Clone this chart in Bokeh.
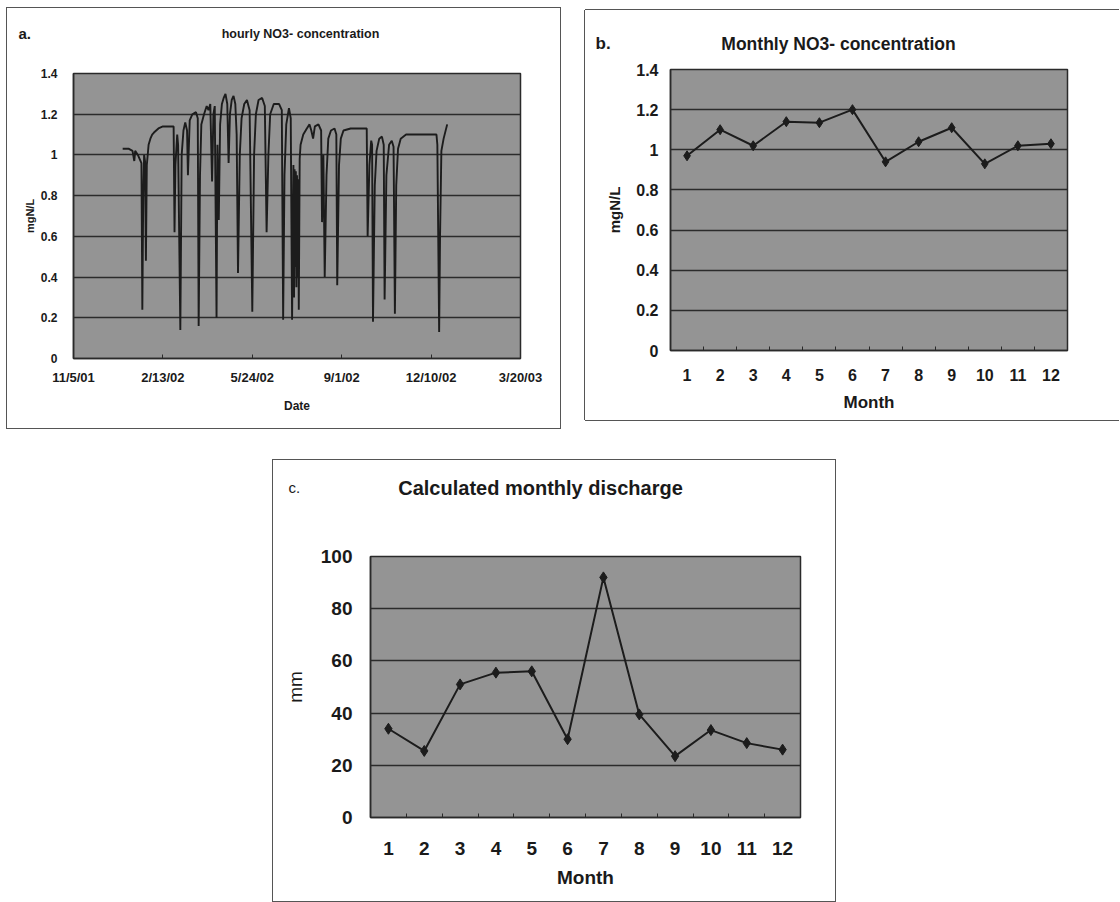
from bokeh.plotting import figure
from bokeh.models import FixedTicker, Label, Spacer
from bokeh.layouts import column, row
from bokeh.embed import file_html
from bokeh.resources import INLINE

FONT = "Liberation Sans"
INK = "#1a1a1a"
PLOT_BG = "#949494"
GRID = "#2b2b2b"
BOX = "#555555"

# ---------------- data ----------------
# panel a: hourly NO3- (days since 11/5/01, mgN/L)
hourly_day = [55, 62, 66, 68, 69, 72, 76, 77, 78, 79, 80, 81, 82, 84, 86, 88, 90, 95, 100, 112,
              113, 114, 116, 117, 119.5, 121, 123, 125, 127, 128, 130, 133, 137, 139, 140, 141.5,
              143, 146, 149, 151, 153, 155, 156.5, 158, 160, 161, 162.5, 164, 166, 168, 170, 172,
              173.5, 175, 177, 179, 181, 182.5, 184, 186, 188, 191, 194, 197, 200, 202, 204, 207,
              211, 214, 216, 218, 220, 224, 230, 233, 234.5, 236, 238, 241, 243, 244.5, 246, 246.7,
              247.3, 248, 248.7, 249.3, 250, 250.7, 251.3, 252, 253, 254, 257, 261, 264, 266, 268,
              270, 274, 277, 278, 279.5, 281, 283, 285, 288, 292, 294, 295, 297, 299, 302, 310, 328,
              329, 331, 333, 334, 335, 337, 339, 342, 345, 347, 348, 350, 353, 356, 358, 359.5, 361,
              363, 366, 372, 406, 407, 409, 410, 411.5, 414, 418]
hourly_no3 = [1.03, 1.03, 1.02, 0.97, 1.02, 1.00, 0.96, 0.24, 0.80, 1.00, 0.97, 0.48, 0.95, 1.05,
              1.08, 1.10, 1.11, 1.13, 1.14, 1.14, 0.62, 0.95, 1.10, 1.05, 0.14, 1.00, 1.12, 1.16,
              1.12, 0.90, 1.17, 1.20, 1.21, 1.18, 0.16, 0.90, 1.15, 1.20, 1.24, 1.22, 1.25, 0.87,
              1.20, 1.24, 0.20, 1.05, 0.68, 1.15, 1.25, 1.28, 1.30, 1.25, 0.96, 1.20, 1.27, 1.29,
              1.25, 1.10, 0.42, 1.00, 1.18, 1.25, 1.27, 1.22, 0.23, 1.00, 1.20, 1.27, 1.28, 1.24,
              0.62, 1.00, 1.20, 1.25, 1.25, 1.22, 0.19, 0.90, 1.15, 1.23, 1.18, 0.19, 0.95, 0.30,
              0.93, 0.45, 0.92, 0.35, 0.90, 0.40, 0.88, 0.24, 0.98, 1.05, 1.10, 1.13, 1.15, 1.12,
              1.08, 1.14, 1.15, 1.12, 0.67, 1.00, 0.40, 0.90, 1.08, 1.12, 1.13, 1.10, 0.36, 0.95,
              1.08, 1.12, 1.13, 1.13, 0.60, 0.95, 1.07, 1.05, 0.18, 0.85, 1.02, 1.08, 1.09, 1.05,
              0.29, 0.90, 1.05, 1.07, 1.04, 0.22, 0.85, 1.03, 1.08, 1.10, 1.10, 1.05, 0.13, 0.60,
              1.02, 1.08, 1.15]
date_ticks = [0, 100, 200, 300, 400, 500]
date_tick_labels = ["11/5/01", "2/13/02", "5/24/02", "9/1/02", "12/10/02", "3/20/03"]
conc_ticks = [0, 0.2, 0.4, 0.6, 0.8, 1.0, 1.2, 1.4]
conc_tick_labels = ["0", "0.2", "0.4", "0.6", "0.8", "1", "1.2", "1.4"]

# panel b / c: monthly values
months = [1, 2, 3, 4, 5, 6, 7, 8, 9, 10, 11, 12]
month_labels = ["1", "2", "3", "4", "5", "6", "7", "8", "9", "10", "11", "12"]
monthly_no3 = [0.97, 1.10, 1.02, 1.14, 1.135, 1.20, 0.94, 1.04, 1.11, 0.93, 1.02, 1.03]
monthly_discharge = [34, 25.5, 51, 55.5, 56, 30, 92, 39.5, 23.5, 33.5, 28.5, 26]
discharge_ticks = [0, 20, 40, 60, 80, 100]
discharge_tick_labels = ["0", "20", "40", "60", "80", "100"]
month_bounds = [m - 0.5 for m in months] + [12.5]


def base_fig(w, h, left, right, top, bottom, xr, yr):
    p = figure(width=w, height=h, x_range=xr, y_range=yr, output_backend="svg",
               toolbar_location=None, min_border_left=left, min_border_right=right,
               min_border_top=top, min_border_bottom=bottom,
               background_fill_color=PLOT_BG, border_fill_color="white",
               outline_line_color="#2a2a2a", outline_line_width=1.5)
    p.frame_align = False
    p.title.visible = False
    p.xgrid.visible = False
    p.ygrid.grid_line_color = GRID
    p.ygrid.grid_line_width = 1.6
    return p


def header(w, h, texts):
    p = figure(width=w, height=h, x_range=(0, 1), y_range=(0, 1), output_backend="svg",
               toolbar_location=None, min_border=0, x_axis_location=None,
               y_axis_location=None, outline_line_color=None,
               background_fill_color="white", border_fill_color="white")
    p.frame_align = False
    p.title.visible = False
    p.grid.visible = False
    for (x, y, text, size, bold, align) in texts:
        p.add_layout(Label(x=x, y=y, x_units="screen", y_units="screen", text=text,
                           text_font=FONT, text_font_size=f"{size}px",
                           text_font_style="bold" if bold else "normal",
                           text_align=align, text_baseline="middle", text_color=INK))
    return p


def style_axis(ax, ticks, labels, size, standoff, label, label_size, label_standoff,
               tick_in=0, minor=None, minor_in=0, label_bold=True):
    ax.ticker = FixedTicker(ticks=ticks, minor_ticks=minor or [])
    ax.major_label_overrides = {t: s for t, s in zip(ticks, labels)}
    ax.major_tick_in = tick_in
    ax.major_tick_out = 0
    ax.minor_tick_in = minor_in
    ax.minor_tick_out = 0
    ax.major_tick_line_color = "#2a2a2a"
    ax.minor_tick_line_color = "#2a2a2a"
    ax.axis_line_color = "#2a2a2a"
    ax.axis_line_width = 1.5
    ax.major_label_text_font = FONT
    ax.major_label_text_font_size = f"{size}px"
    ax.major_label_text_font_style = "bold"
    ax.major_label_text_color = INK
    ax.major_label_standoff = standoff
    ax.axis_label = label
    ax.axis_label_text_font = FONT
    ax.axis_label_text_font_size = f"{label_size}px"
    ax.axis_label_text_font_style = "bold" if label_bold else "normal"
    ax.axis_label_text_color = INK
    ax.axis_label_standoff = label_standoff


# ---------------- panel a ----------------
ha = header(553, 50, [(11, 25, "a.", 15, True, "left"),
                      (293, 25, "hourly NO3- concentration", 12.5, True, "center")])
pa = base_fig(553, 370, 66, 40, 15, 70, (0, 500), (0, 1.4))
pa.line(hourly_day, hourly_no3, line_color="#1c1c1c", line_width=1.9)
style_axis(pa.xaxis[0], date_ticks, date_tick_labels, 13, 11, "Date", 12, 11, tick_in=4)
style_axis(pa.yaxis[0], conc_ticks, conc_tick_labels, 12, 16, "mgN/L", 11, 2)
col_a = column(ha, pa, styles={"box-shadow": f"0 0 0 1px {BOX}"})

# ---------------- panel b ----------------
hb = header(534, 45, [(10, 12, "b.", 17, True, "left"),
                      (253, 12, "Monthly NO3- concentration", 17.5, True, "center")])
pb = base_fig(534, 365, 85, 52, 14, 70, (0.5, 12.5), (0, 1.4))
pb.line(months, monthly_no3, line_color="#1c1c1c", line_width=2)
pb.scatter(months, monthly_no3, marker="diamond", size=10, fill_color="#1c1c1c",
           line_color="#1c1c1c")
style_axis(pb.xaxis[0], months, month_labels, 16, 18, "Month", 17, 9,
           minor=month_bounds, minor_in=4)
style_axis(pb.yaxis[0], conc_ticks, conc_tick_labels, 16, 12, "mgN/L", 15, 10)
col_b = column(hb, pb, styles={"box-shadow": f"-1px 0 0 0 {BOX}, 0 -1px 0 0 {BOX}, 0 1px 0 0 {BOX}"})

# ---------------- panel c ----------------
hc = header(562, 70, [(15, 43, "c.", 15, False, "left"),
                      (267, 43, "Calculated monthly discharge", 20, True, "center")])
pc = base_fig(562, 371, 97, 35, 26, 84, (0.5, 12.5), (0, 100))
pc.line(months, monthly_discharge, line_color="#1c1c1c", line_width=2)
pc.scatter(months, monthly_discharge, marker="diamond", size=11, fill_color="#1c1c1c",
           line_color="#1c1c1c")
style_axis(pc.xaxis[0], months, month_labels, 19, 24, "Month", 19, 9,
           minor=month_bounds, minor_in=4)
style_axis(pc.yaxis[0], discharge_ticks, discharge_tick_labels, 19, 18, "mm", 19, 12,
           label_bold=False)
col_c = column(hc, pc, styles={"box-shadow": f"0 0 0 1px {BOX}"})

layout = column(
    Spacer(height=8),
    row(Spacer(width=7), col_a, Spacer(width=25), column(Spacer(height=2), col_b)),
    Spacer(height=32),
    row(Spacer(width=273), col_c),
)

open("out.html", "w").write(file_html(layout, INLINE))
